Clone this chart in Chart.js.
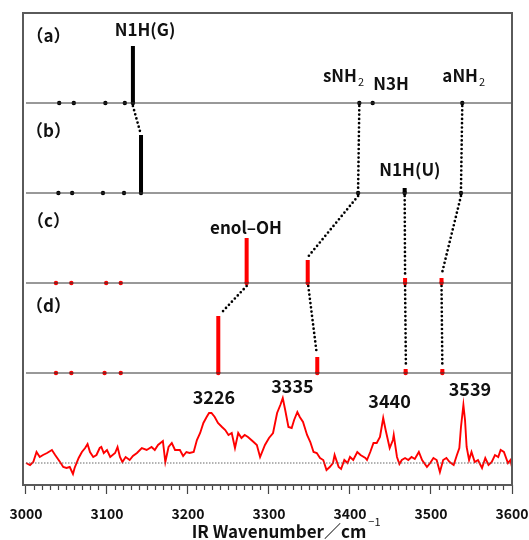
<!DOCTYPE html>
<html><head><meta charset="utf-8">
<script src="https://cdn.jsdelivr.net/npm/chart.js@4/dist/chart.umd.min.js"></script>
<style>html,body{margin:0;padding:0;background:#fff;overflow:hidden}#wrap{width:529px;height:540px;position:relative}</style>
</head><body><div id="wrap"><canvas id="c"></canvas></div>
<script>
// ---------------- DATA ----------------
const xTickLabels = ['3000','3100','3200','3300','3400','3500','3600'];
const panelNames = ['（a）','（b）','（c）','（d）'];

// stick spectra: wavenumber (cm-1) and relative intensity (0 = weak band, drawn as dot)
const stickWnA  = [3041, 3059, 3098, 3122, 3132, 3411.5, 3428, 3538.6];
const stickIntA = [0, 0, 0, 0, 57, 0, 0, 0];
const stickWnB  = [3040, 3057, 3095, 3121, 3142, 3410, 3467.5, 3537];
const stickIntB = [0, 0, 0, 0, 58, 0, 5, 0];
const stickWnC  = [3037, 3056, 3099, 3117, 3272.4, 3347.8, 3468, 3513];
const stickIntC = [0, 0, 0, 0, 45, 23, 5, 5];
const stickWnD  = [3037, 3056, 3097, 3117, 3237.4, 3359.6, 3468.7, 3514];
const stickIntD = [0, 0, 0, 0, 57, 16, 4, 4];

// correlation lines between panels: [upper wn, lower wn, lower intensity]
const linksAB = [[3132, 3141, 58], [3411.5, 3410, 0], [3538.6, 3537, 0]];
const linksBC = [[3410, 3348, 23], [3467.5, 3468, 5], [3537, 3513, 5]];
const linksCD = [[3272.4, 3241, 57], [3348.5, 3359, 16], [3468, 3469, 4], [3513, 3514, 4]];

// experimental IR spectrum
const specWn = [3000,3005,3009,3013,3017,3021,3026,3032,3036,3042,3046,3050,3054,3058,3060,3065,3069,3073,3076,3079,3083,3087,3091,3093,3096,3100,3104,3110,3113,3116,3119,3123,3128,3132,3137,3143,3149,3155,3159,3163,3169,3172,3176,3180,3184,3190,3194,3198,3202,3207,3211,3215,3219,3223,3226,3229,3233,3237,3242,3246,3250,3254,3258,3262,3266,3270,3274,3281,3285,3289,3295,3300,3305,3310,3314,3317,3320,3324,3328,3331,3335,3338,3342,3347,3351,3355,3359,3363,3367,3371,3375,3379,3381,3386,3389,3393,3397,3400,3404,3409,3413,3419,3421,3425,3429,3433,3437,3441,3444,3449,3453,3454,3458,3461,3464,3468,3472,3476,3480,3485,3489,3495,3499,3503,3507,3511,3515,3519,3523,3528,3532,3535,3537,3540,3542,3544,3547,3550,3554,3558,3563,3567,3571,3575,3579,3583,3586,3590,3595,3598,3600];
const specInt = [0,-2,1,11,6,8,10,13,8,1,-4,-5,-4,-11,-5,5,11,15,19,11,6,8,15,16,10,13,6,10,16,6,1,6,3,7,10,15,13,16,13,18,22,1,16,20,13,13,7,11,10,11,23,30,40,46,50,50,46,40,36,33,28,30,15,30,25,28,26,21,18,6,18,25,30,50,58,65,53,36,35,43,51,46,41,28,21,11,10,5,3,-7,-4,0,8,-4,-6,3,0,6,3,11,8,5,3,11,20,20,26,45,33,15,23,28,6,-1,3,5,3,6,4,11,3,-4,0,5,3,-9,3,5,1,-2,8,15,36,58,43,16,3,11,1,3,-5,5,-2,1,8,6,13,11,0,3,-4];

// peak labels of experimental spectrum
const peakLabels = ['3226', '3335', '3440', '3539'];

// ---------------- LAYOUT (not data) ----------------
const PANEL_BASE = [382, 292, 202, 112];
const SPEC_BASE = 22;
const BLACK = '#000000', RED = '#ff0000';

function stickLine(wn, inten, base) {
  const d = [];
  wn.forEach((w, i) => { if (inten[i] > 0) { d.push({x: w, y: base}, {x: w, y: base + inten[i]}, {x: w, y: null}); } });
  return d;
}
function stickDots(wn, base) { return wn.map(w => ({x: w, y: base})); }
function links(list, upBase, lowBase) {
  const d = [];
  list.forEach(l => { d.push({x: l[0], y: upBase - 3}, {x: l[1], y: lowBase + l[2] + 3}, {x: l[1], y: null}); });
  return d;
}

const datasets = [];
PANEL_BASE.forEach(b => datasets.push({data: [{x: 3000, y: b}, {x: 3600, y: b}], showLine: true, borderColor: '#333', borderWidth: 1, pointRadius: 0}));
datasets.push({data: [{x: 3000, y: SPEC_BASE}, {x: 3600, y: SPEC_BASE}], showLine: true, borderColor: '#666', borderWidth: 1, borderDash: [1.5, 1.5], pointRadius: 0});
const dotLink = {showLine: true, borderColor: '#000', borderWidth: 2.7, borderDash: [0, 4.3], borderCapStyle: 'round', pointRadius: 0, spanGaps: false};
datasets.push(Object.assign({data: links(linksAB, PANEL_BASE[0], PANEL_BASE[1])}, dotLink));
datasets.push(Object.assign({data: links(linksBC, PANEL_BASE[1], PANEL_BASE[2])}, dotLink));
datasets.push(Object.assign({data: links(linksCD, PANEL_BASE[2], PANEL_BASE[3])}, dotLink));
[[stickWnA, stickIntA, BLACK], [stickWnB, stickIntB, BLACK], [stickWnC, stickIntC, RED], [stickWnD, stickIntD, RED]].forEach((p, k) => {
  datasets.push({data: stickLine(p[0], p[1], PANEL_BASE[k]), showLine: true, borderColor: p[2], borderWidth: 4, borderCapStyle: 'butt', pointRadius: 0, spanGaps: false});
  datasets.push({data: stickDots(p[0], PANEL_BASE[k]), showLine: false, pointRadius: 2.2, pointBackgroundColor: p[2], pointBorderWidth: 0});
});
datasets.push({data: specWn.map((w, i) => ({x: w, y: SPEC_BASE + specInt[i]})), showLine: true, borderColor: RED, borderWidth: 1.9, pointRadius: 0, tension: 0});

const FONT = '"Noto Sans CJK JP", "Noto Sans", sans-serif';
Chart.defaults.font.family = FONT;

// text annotations: [text, wavenumber, y-value, size]
const annot = [
  [panelNames[0], 3027.8, 449, 17],
  [panelNames[1], 3027.8, 354, 17],
  [panelNames[2], 3027.8, 264, 17],
  [panelNames[3], 3027.8, 179, 17],
  ['N1H(G)', 3147, 455, 17],
  ['N3H', 3450.6, 401, 17],
  ['N1H(U)', 3474, 315, 17],
  ['enol–OH', 3271.6, 257, 17],
  [peakLabels[0], 3232, 88, 18],
  [peakLabels[1], 3329, 99, 18],
  [peakLabels[2], 3448.8, 84, 18],
  [peakLabels[3], 3548, 96, 18]
];
const subAnnot = [['sNH', '2', 3408.6, 409, 17], ['aNH', '2', 3558, 409, 17]];

const textPlugin = {
  id: 'texts',
  afterDatasetsDraw(chart) {
    const {ctx, chartArea: a, scales: {x, y}} = chart;
    ctx.save();
    ctx.strokeStyle = '#5a5a5a'; ctx.lineWidth = 2;
    ctx.strokeRect(a.left, a.top, a.right - a.left, a.bottom - a.top);
    ctx.fillStyle = '#111';
    ctx.textBaseline = 'middle';
    annot.forEach(t => {
      ctx.font = 'bold ' + t[3] + 'px ' + FONT;
      ctx.textAlign = 'center';
      ctx.fillText(t[0], x.getPixelForValue(t[1]), y.getPixelForValue(t[2]));
    });
    subAnnot.forEach(t => {
      const px = x.getPixelForValue(t[2]), py = y.getPixelForValue(t[3]);
      ctx.font = 'bold ' + t[4] + 'px ' + FONT;
      ctx.textAlign = 'right';
      ctx.fillText(t[0], px, py);
      ctx.font = '11px ' + FONT;
      ctx.textAlign = 'left';
      ctx.fillText(t[1], px + 1, py + 6);
    });
    // axis title with superscript
    const title = 'IR Wavenumber／cm';
    ctx.font = 'bold 17px ' + FONT;
    ctx.textAlign = 'left';
    const tx = a.left + 168.7, ty = 532;
    ctx.fillText(title, tx, ty);
    const w = ctx.measureText(title).width;
    ctx.font = '11px ' + FONT;
    ctx.fillText('−1', tx + w + 2, ty - 10);
    ctx.restore();
  }
};

new Chart(document.getElementById('c'), {
  type: 'scatter',
  data: {datasets},
  options: {
    responsive: true, maintainAspectRatio: false, animation: false,
    layout: {padding: {left: 23, right: 17, top: 13, bottom: 0}},
    plugins: {legend: {display: false}, tooltip: {enabled: false}},
    scales: {
      x: {
        type: 'linear', min: 2996.3, max: 3600,
        afterBuildTicks: s => { const t = []; for (let v = 3000; v <= 3600; v += 10) t.push({value: v}); s.ticks = t; },
        afterFit: s => { s.height = 55; s.paddingLeft = 0; s.paddingRight = 0; },
        border: {display: false},
        grid: {drawOnChartArea: false, drawTicks: true, tickLength: 9, tickColor: '#444', tickWidth: 1.2,
               tickBorderDash: c => (c.tick && c.tick.value % 100 === 0) ? [] : [5, 30]},
        ticks: {autoSkip: false, maxRotation: 0, padding: 11, color: '#111', font: {size: 14, weight: 'bold'},
                callback: v => xTickLabels.includes(String(v)) ? String(v) : ''}
      },
      y: {display: false, min: 0, max: 472}
    }
  },
  plugins: [textPlugin]
});
</script>
</body></html>
